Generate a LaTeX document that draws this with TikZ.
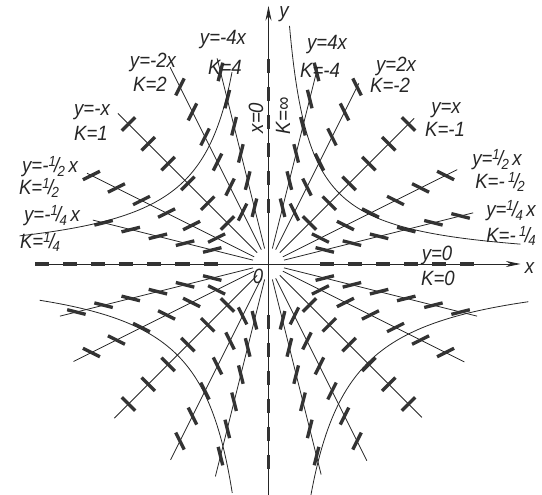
\documentclass[tikz,border=0pt]{standalone}
\usepackage{fontspec}
\setmainfont{Liberation Sans}[FakeStretch=0.9]
\usetikzlibrary{arrows.meta}
\newcommand{\fr}[2]{\raisebox{.55ex}{\fontsize{11}{11}\selectfont #1}\kern-.08em/\kern-.08em\raisebox{-.3ex}{\fontsize{11}{11}\selectfont #2}}
\begin{document}
\begin{tikzpicture}[x=0.75pt,y=0.75pt,
  thinline/.style={line width=0.6pt,black!85},
  dirmark/.style={line width=2.5pt,black!80},
  lab/.style={font=\fontsize{15.5}{15.5}\selectfont\itshape,inner sep=0pt,black!85},
  arr/.style={-{Stealth[length=11pt,width=4.5pt]}}]
\useasboundingbox (-268.5,-231) rectangle (273.5,264);
% axes
\draw[thinline,arr] (-233,0) -- (252,0);
\draw[thinline,arr] (0,-231) -- (0,258);
% marks on axes
\foreach \a/\n in {0/5,180/6,90/5,270/5}{
  \foreach \i in {0,...,\n}
    \draw[dirmark,shift={(\a:{58+28*\i})}] ({-\a}:7) -- ({180-\a}:7);
}
% isocline rays with direction marks
\foreach \a/\R/\n in {165.964/181/4,153.435/203/5,135/213/5,116.565/220/5,104.036/212/5,
  75.964/202/5,63.435/202/5,45/206/5,26.565/211/5,14.036/211/5,
  194.036/215/5,206.565/218/5,225/218/5,243.435/219/5,255.964/219/5,
  345.964/215/5,333.435/219/5,315/217/5,296.565/220/5,284.036/217/5}{
  \draw[thinline] (\a:16) -- (\a:\R);
  \foreach \i in {0,...,\n}
    \draw[dirmark,shift={(\a:{58+28*\i})}] ({-\a}:9.5) -- ({180-\a}:9.5);
}
% integral curves xy=C
\draw[thinline,samples=60,domain=-0.8295:1.0906] plot ({-83.67*exp(\x)},{83.67*exp(-\x)});
\draw[thinline,samples=60,domain=-1.214:1.271] plot ({70.71*exp(\x)},{70.71*exp(-\x)});
\draw[thinline,samples=60,domain=-0.9217:0.9217] plot ({-91.1*exp(\x)},{-91.1*exp(-\x)});
\draw[thinline,samples=60,domain=-0.8473:0.9656] plot ({99.0*exp(\x)},{-99.0*exp(-\x)});
% labels upper left
\node[lab] (l1) at (-45.5,224) {y=-4x};
\node[lab] (l2) at (-43.5,197) {K=4};
\node[lab] (l3) at (-115.5,202) {y=-2x};
\node[lab] (l4) at (-118.5,180) {K=2};
\node[lab] (l5) at (-176.5,152) {y=-x};
\node[lab] (l6) at (-177.5,131) {K=1};
\node[lab] (l7) at (-218.5,97) {y=-\fr{1}{2}\,x};
\node[lab] (l8) at (-229.5,76) {K=\fr{1}{2}};
\node[lab] (l9) at (-216.5,48) {y=-\fr{1}{4}\,x};
\node[lab] (l10) at (-228.5,22) {K=\fr{1}{4}};
% labels upper right
\node[lab] (r1) at (58.5,219) {y=4x};
\node[lab] (r2) at (51.5,194) {K=-4};
\node[lab] (r3) at (127.5,198) {y=2x};
\node[lab] (r4) at (121.5,179) {K=-2};
\node[lab] (r5) at (177.5,154) {y=x};
\node[lab] (r6) at (176.5,135) {K=-1};
\node[lab] (r7) at (228.5,104) {y=\fr{1}{2}\,x};
\node[lab] (r8) at (231.5,82) {K=-\,\fr{1}{2}};
\node[lab] (r9) at (242.5,53) {y=\fr{1}{4}\,x};
\node[lab] (r10) at (242.5,28) {K=-\,\fr{1}{4}};
\node[lab] (r11) at (168.5,9) {y=0};
\node[lab] (r12) at (169.5,-14) {K=0};
% axis labels
\node[lab] (ax) at (261,-4) {x};
\node[lab] (ay) at (15.5,250) {y};
\node[lab] (o) at (-10.5,-12) {0};
\node[lab,rotate=90] (v1) at (-12.5,146) {x=0};
\node[lab,rotate=90] (v2) at (14.5,148) {K=∞};
\end{tikzpicture}
\end{document}
